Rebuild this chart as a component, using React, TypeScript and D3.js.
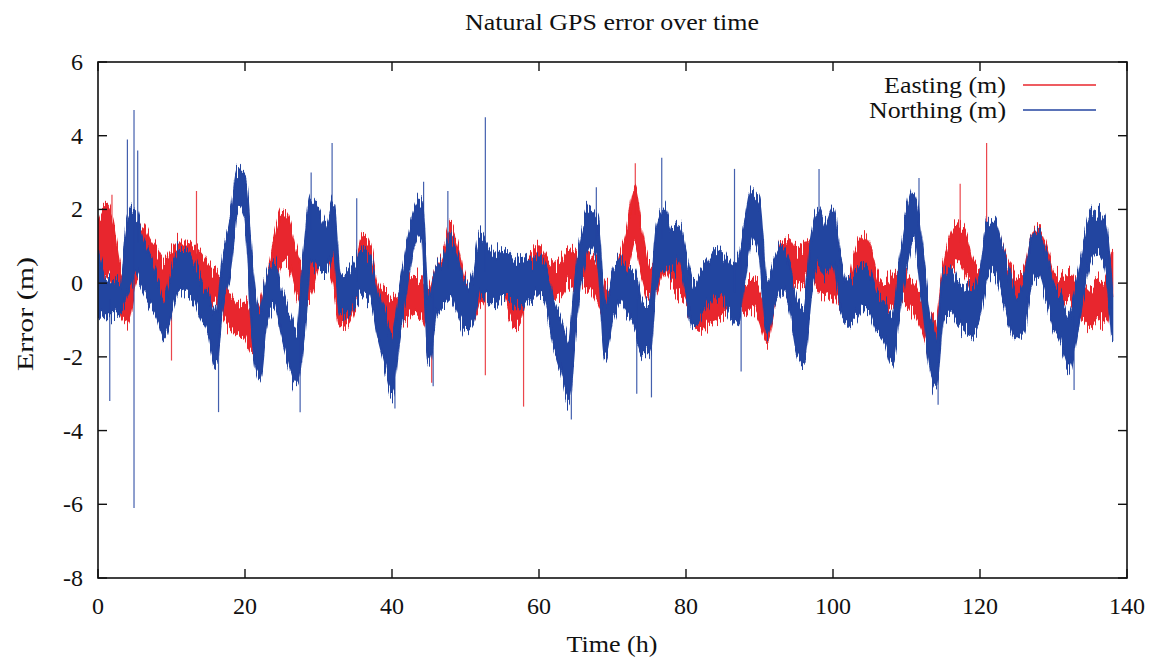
import React from "react";
import * as d3 from "d3";

// Hourly envelope (upper / lower edge of the dense noise band), hour index = time (h)
const eastHi = [1.6,2.1,1.7,0.5,0.2,1.4,1.6,1.2,0.9,0.6,0.9,1.1,1.1,1.0,0.8,0.5,0.3,0.0,-0.3,-0.6,-0.5,-0.8,-0.6,0.2,1.2,1.9,1.6,0.8,0.3,0.6,1.3,1.6,1.0,-0.3,-0.2,0.3,1.3,1.0,0.0,-0.3,-0.4,-0.2,0.0,0.2,0.1,-0.2,0.4,0.8,1.5,0.9,0.0,-0.1,0.4,0.7,0.8,0.7,0.0,-0.3,0.4,0.8,1.0,0.7,0.5,0.6,0.9,0.8,0.9,0.8,0.5,-0.1,0.1,0.7,1.4,2.6,1.4,0.5,0.7,1.3,1.0,0.6,0.4,-0.2,-0.4,-0.2,0.0,0.1,0.3,0.2,0.0,0.1,-0.2,-0.6,0.3,1.1,1.2,0.9,1.0,1.2,0.8,0.5,0.6,0.3,0.0,0.8,1.3,1.0,0.2,0.0,0.2,0.4,0.3,0.0,-0.4,-0.8,-1.0,0.4,1.3,1.6,1.4,0.6,0.4,1.3,1.6,1.0,0.5,0.2,0.3,1.2,1.5,1.0,0.3,0.2,0.3,0.0,-0.2,-0.2,0.0,-0.1,0.9];
const eastLo = [0.0,0.3,0.0,-0.8,-1.1,-0.2,0.2,0.0,-0.4,-0.6,-0.3,0.2,0.3,0.0,-0.3,-0.5,-0.6,-0.9,-1.2,-1.4,-1.5,-1.9,-1.7,-0.8,0.0,0.6,0.5,-0.2,-0.6,-0.3,0.4,0.6,0.0,-1.2,-1.1,-0.6,0.3,0.0,-0.9,-1.2,-1.4,-1.1,-1.0,-0.8,-0.9,-1.3,-0.5,-0.3,0.2,-0.3,-1.0,-1.0,-0.5,-0.2,0.0,-0.1,-0.9,-1.2,-0.5,-0.1,0.0,-0.2,-0.4,-0.3,0.0,-0.1,0.0,-0.1,-0.5,-0.9,-0.8,-0.3,0.3,1.1,0.2,-0.4,-0.2,0.3,0.0,-0.3,-0.5,-1.1,-1.3,-1.1,-1.0,-0.9,-0.7,-0.7,-0.8,-0.7,-1.0,-1.6,-0.7,0.0,0.2,0.0,0.1,0.2,-0.2,-0.4,-0.3,-0.6,-0.9,-0.1,0.3,0.1,-0.6,-0.7,-0.6,-0.4,-0.5,-0.8,-1.2,-1.8,-2.4,-0.6,0.4,0.6,0.3,-0.2,-0.3,0.2,0.5,0.0,-0.3,-0.5,-0.4,0.3,0.6,0.1,-0.6,-0.5,-0.4,-0.7,-1.0,-1.2,-1.0,-1.1,-0.2];
const northHi = [0.9,0.2,0.0,0.0,1.6,2.0,1.3,0.8,0.2,-0.4,0.3,0.9,0.9,0.6,0.1,-0.3,-0.9,0.7,1.7,3.1,2.9,0.5,-0.8,0.3,0.6,-0.2,-0.8,-1.3,0.8,2.3,2.0,1.6,2.2,0.2,0.3,0.6,0.9,0.7,-0.2,-0.8,-1.4,-0.2,1.0,2.0,2.3,-0.4,0.4,0.7,1.2,0.6,-0.1,0.2,1.3,1.0,0.8,0.9,0.8,0.6,0.7,0.6,0.7,0.4,-0.5,-1.0,-1.6,0.3,1.5,2.0,1.7,-0.6,0.3,0.6,0.4,0.3,-0.5,-0.6,1.5,2.0,1.5,1.6,0.8,0.0,0.3,0.6,0.9,0.8,0.5,0.6,1.6,2.5,2.2,0.0,0.6,1.0,0.6,-0.4,-0.6,1.2,2.0,1.6,2.0,0.7,0.1,0.2,0.5,0.3,-0.3,-0.5,-0.9,0.5,1.8,2.5,1.2,-0.6,-1.4,0.2,0.4,0.0,-0.1,-0.2,0.3,1.6,1.7,1.0,0.3,-0.3,0.0,1.2,1.4,0.8,0.0,-0.3,-0.9,-0.2,0.9,1.8,2.0,1.7,-0.2];
const northLo = [-0.8,-0.9,-0.9,-0.8,-0.3,0.2,-0.2,-0.6,-0.9,-1.5,-0.8,-0.2,-0.3,-0.4,-0.9,-1.3,-2.3,-0.6,0.3,2.0,1.7,-1.5,-2.6,-1.0,-0.6,-1.4,-2.2,-2.8,-1.5,0.6,0.4,0.3,0.8,-0.9,-0.9,-0.5,-0.3,-0.4,-1.4,-2.2,-3.0,-1.5,-0.2,1.0,1.3,-2.2,-0.9,-0.6,-0.4,-0.9,-1.3,-1.1,-0.2,-0.4,-0.6,-0.4,-0.4,-0.6,-0.5,-0.5,-0.3,-0.6,-1.7,-2.4,-3.2,-1.2,0.4,1.0,0.6,-2.0,-1.0,-0.5,-0.8,-1.2,-1.9,-1.9,0.0,0.4,0.3,0.6,-0.3,-1.2,-0.9,-0.6,-0.3,-0.4,-0.9,-1.1,0.2,1.2,0.8,-1.4,-0.7,-0.3,-0.6,-1.8,-2.2,-0.4,0.5,0.2,0.6,-0.6,-1.1,-1.0,-0.7,-0.8,-1.3,-1.6,-2.2,-0.9,0.5,1.2,-0.2,-2.0,-2.9,-1.0,-0.8,-1.1,-1.3,-1.4,-0.9,0.1,0.3,-0.3,-1.1,-1.5,-1.3,0.0,0.2,-0.4,-1.2,-1.6,-2.4,-1.6,-0.4,0.6,0.8,0.4,-1.6];

// Isolated excursions [time (h), value (m)]
const eastSpikeT = [1.9, 10.0, 13.4, 45.4, 52.7, 57.9, 73.1, 117.3, 120.9];
const eastSpikeV = [2.4, -2.1, 2.5, -2.7, -2.5, -3.35, 3.25, 2.7, 3.8];
const northSpikeT = [1.6, 4.0, 4.9, 4.9, 5.4, 16.4, 27.5, 29.0, 31.85, 35.2, 40.4, 44.3, 45.6, 47.6, 52.7, 64.4, 67.8, 73.3, 75.3, 76.7, 86.6, 87.5, 98.1, 111.7, 114.3, 132.8];
const northSpikeV = [-3.2, 3.9, 4.7, -6.1, 3.6, -3.5, -3.5, 3.0, 3.8, 2.3, -3.4, 2.75, -2.8, 2.5, 4.5, -3.7, 2.6, -3.0, -3.1, 3.4, 3.1, -2.4, 3.1, 2.85, -3.3, -2.9];

const xTicks = [0, 20, 40, 60, 80, 100, 120, 140];
const yTicks = [6, 4, 2, 0, -2, -4, -6, -8];

const RED = "#e8262d";
const BLUE = "#2344a0";
const FONT = "'Liberation Serif', 'DejaVu Serif', serif";

export default function App() {
  const W = 1160, H = 661;
  const L = 98, R = 1127, T = 62, B = 578;
  const x = d3.scaleLinear().domain([0, 140]).range([L, R]);
  const y = d3.scaleLinear().domain([-8, 6]).range([B, T]);

  const band = (hi: number[], lo: number[]) =>
    d3.area<number>()
      .curve(d3.curveMonotoneX)
      .x((_, i) => x(i))
      .y0((_, i) => y(lo[i]))
      .y1((d) => y(d))(hi) || "";

  const mid = (hi: number[], lo: number[], t: number) => {
    const i = Math.max(0, Math.min(hi.length - 1, Math.round(t)));
    return (hi[i] + lo[i]) / 2;
  };

  const spikes = (ts: number[], vs: number[], hi: number[], lo: number[], color: string, key: string) =>
    ts.map((t, i) => (
      <line key={key + i} x1={x(t)} x2={x(t)} y1={y(mid(hi, lo, t))} y2={y(vs[i])}
        stroke={color} strokeWidth={1.2} strokeOpacity={0.85} />
    ));

  const tick = 9;

  return (
    <div style={{ position: "absolute", left: 0, top: 0 }}>
      <svg width={W} height={H} style={{ display: "block", background: "#fff" }} fontFamily={FONT}>
        <defs>
          <clipPath id="plot"><rect x={L} y={T} width={R - L} height={B - T} /></clipPath>
          <filter id="rough" x="-2%" y="-30%" width="104%" height="160%">
            <feTurbulence type="fractalNoise" baseFrequency="0.8 0.012" numOctaves={2} seed={7} result="noise" />
            <feColorMatrix in="noise" type="matrix"
              values="0 0 0 0 0.5  0 1 0 0 0  0 0 1 0 0  0 0 0 0 1" result="dy" />
            <feDisplacementMap in="SourceGraphic" in2="dy" scale={34} xChannelSelector="R" yChannelSelector="G" />
          </filter>
        </defs>
        <text x={612} y={30} fontSize={23} textAnchor="middle" fill="#111" textLength={294} lengthAdjust="spacingAndGlyphs">Natural GPS error over time</text>

        <g clipPath="url(#plot)">
          <g filter="url(#rough)">
            <path d={band(eastHi, eastLo)} fill={RED} stroke={RED} strokeWidth={2} />
          </g>
          {spikes(eastSpikeT, eastSpikeV, eastHi, eastLo, RED, "e")}
          <g filter="url(#rough)">
            <path d={band(northHi, northLo)} fill={BLUE} stroke={BLUE} strokeWidth={2} />
          </g>
          {spikes(northSpikeT, northSpikeV, northHi, northLo, BLUE, "n")}
        </g>

        <rect x={L} y={T} width={R - L} height={B - T} fill="none" stroke="#111" strokeWidth={1.6} />
        {xTicks.map((v) => (
          <g key={"x" + v}>
            <line x1={x(v)} x2={x(v)} y1={B} y2={B - tick} stroke="#111" strokeWidth={1.4} />
            <line x1={x(v)} x2={x(v)} y1={T} y2={T + tick} stroke="#111" strokeWidth={1.4} />
            <text x={x(v)} y={614} fontSize={24} textAnchor="middle" fill="#111">{v}</text>
          </g>
        ))}
        {yTicks.map((v) => (
          <g key={"y" + v}>
            <line x1={L} x2={L + tick} y1={y(v)} y2={y(v)} stroke="#111" strokeWidth={1.4} />
            <line x1={R} x2={R - tick} y1={y(v)} y2={y(v)} stroke="#111" strokeWidth={1.4} />
            <text x={83} y={y(v) + 8} fontSize={24} textAnchor="end" fill="#111">{v}</text>
          </g>
        ))}

        <text x={612} y={652} fontSize={24} textAnchor="middle" fill="#111" textLength={91} lengthAdjust="spacingAndGlyphs">Time (h)</text>
        <text transform="translate(33,314) rotate(-90)" fontSize={24} textAnchor="middle" fill="#111" textLength={114} lengthAdjust="spacingAndGlyphs">Error (m)</text>

        <text x={1006} y={93} fontSize={24} textAnchor="end" fill="#111" textLength={122} lengthAdjust="spacingAndGlyphs">Easting (m)</text>
        <line x1={1023} x2={1096} y1={85} y2={85} stroke={RED} strokeWidth={1.3} />
        <text x={1006} y={118} fontSize={24} textAnchor="end" fill="#111" textLength={137} lengthAdjust="spacingAndGlyphs">Northing (m)</text>
        <line x1={1023} x2={1096} y1={110} y2={110} stroke={BLUE} strokeWidth={1.3} />
      </svg>
    </div>
  );
}
